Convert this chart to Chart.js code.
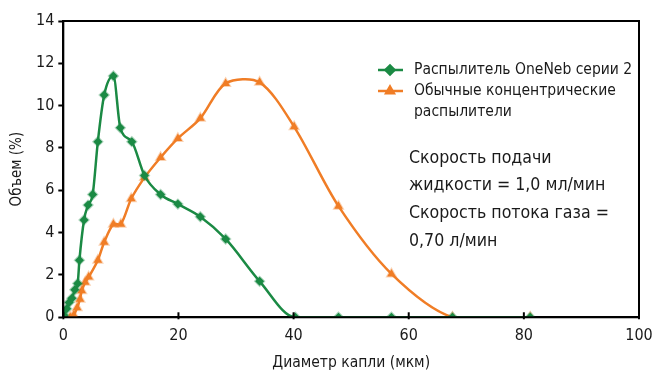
<!DOCTYPE html>
<html>
<head>
<meta charset="utf-8">
<script src="https://cdn.jsdelivr.net/npm/chart.js@4.4.1/dist/chart.umd.min.js"></script>
<style>
  html, body { margin: 0; padding: 0; background: #fff; }
  #wrap { width: 653px; height: 370px; }
</style>
</head>
<body>
<div id="wrap"><canvas id="chart-1"></canvas></div>
<script>
// droplet diameter (um) and volume (%)
const oneNebX = [0.1, 0.6, 1.0, 1.5, 2.0, 2.5, 2.8, 3.6, 4.3, 5.1, 6.0, 7.1, 8.7, 9.9, 11.9, 14.1, 16.9, 19.9, 23.8, 28.2, 34.1, 40.3, 47.8, 57.0, 67.6, 81.1];
const oneNebY = [0.1, 0.4, 0.7, 0.9, 1.3, 1.6, 2.7, 4.6, 5.3, 5.8, 8.3, 10.5, 11.4, 8.95, 8.3, 6.7, 5.8, 5.35, 4.75, 3.7, 1.7, 0, 0, 0, 0, 0];

const concX = [1.2, 1.8, 2.4, 2.9, 3.2, 3.8, 4.4, 6.0, 7.1, 8.7, 10.0, 11.8, 14.1, 16.9, 19.9, 23.8, 28.2, 34.1, 40.1, 47.8, 57.0, 67.6, 81.1];
const concY = [0, 0.1, 0.45, 0.85, 1.25, 1.65, 1.9, 2.7, 3.55, 4.4, 4.4, 5.6, 6.6, 7.55, 8.45, 9.4, 11.05, 11.1, 9.0, 5.25, 2.05, 0, 0];

const xTicks = [0, 20, 40, 60, 80, 100];
const yTicks = [0, 2, 4, 6, 8, 10, 12, 14];

const seriesNames = ['Распылитель OneNeb серии 2', ['Обычные концентрические', 'распылители']];
const noteLines = ['Скорость подачи', 'жидкости = 1,0 мл/мин', 'Скорость потока газа =', '0,70 л/мин'];

const green = '#1b8a44';
const orange = '#f07d26';
const FONT = '"Liberation Sans Narrow", "DejaVu Sans Condensed", "Roboto", sans-serif';

function toPoints(xs, ys) {
  return xs.map((x, i) => ({ x: x, y: ys[i] }));
}

// box, inward x ticks, legend and note
const extras = {
  id: 'extras',
  afterDraw(chart) {
    const c = chart.ctx;
    const a = chart.chartArea;
    const xs = chart.scales.x;
    c.save();
    c.strokeStyle = '#000';
    c.lineWidth = 2;
    c.strokeRect(a.left, a.top, a.right - a.left, a.bottom - a.top);
    xTicks.forEach(v => {
      const px = xs.getPixelForValue(v);
      c.beginPath();
      c.moveTo(px, a.bottom + 2);
      c.lineTo(px, a.bottom - 5);
      c.stroke();
    });

    const ds = chart.data.datasets;
    const legY = [70, 91];
    ds.forEach((d, i) => {
      const y = legY[i];
      c.strokeStyle = d.borderColor;
      c.lineWidth = 2.5;
      c.beginPath();
      c.moveTo(378, y);
      c.lineTo(403, y);
      c.stroke();
      Chart.helpers.drawPoint(c, {
        pointStyle: d.pointStyle, radius: 4.5, rotation: 0, borderWidth: 1
      }, 390, y);
      c.fillStyle = d.backgroundColor;
      c.fill();
      c.fillStyle = '#1a1a1a';
      c.font = '15.5px ' + FONT;
      c.textBaseline = 'middle';
      const lines = [].concat(seriesNames[i]);
      lines.forEach((t, k) => c.fillText(t, 414, y + k * 21));
    });

    c.fillStyle = '#1a1a1a';
    c.font = '17.6px ' + FONT;
    c.textBaseline = 'middle';
    noteLines.forEach((t, k) => c.fillText(t, 409, 158 + k * 27.7));
    c.restore();
  }
};

const ctx1 = document.getElementById('chart-1');

new Chart(ctx1, {
  type: 'scatter',
  data: {
    datasets: [{
      label: 'OneNeb',
      data: toPoints(oneNebX, oneNebY),
      showLine: true,
      borderColor: green,
      backgroundColor: green,
      borderWidth: 2.5,
      cubicInterpolationMode: 'monotone',
      pointStyle: 'rectRot',
      pointRadius: 4.5,
      pointBorderWidth: 2,
      pointBorderColor: 'rgba(27,138,68,0.35)',
      order: 1
    }, {
      label: 'Concentric',
      data: toPoints(concX, concY),
      showLine: true,
      borderColor: orange,
      backgroundColor: orange,
      borderWidth: 2.5,
      tension: 0.3,
      pointStyle: 'triangle',
      pointRadius: 5,
      pointBorderWidth: 2,
      pointBorderColor: 'rgba(240,125,38,0.35)',
      order: 2
    }]
  },
  options: {
    responsive: true,
    maintainAspectRatio: false,
    animation: false,
    layout: { padding: { top: 21, right: 14, left: 4, bottom: 0 } },
    plugins: {
      legend: { display: false },
      tooltip: { enabled: false }
    },
    scales: {
      x: {
        type: 'linear',
        min: 0,
        max: 100,
        afterBuildTicks: s => { s.ticks = xTicks.map(v => ({ value: v })); },
        afterFit: s => { s.paddingRight = 0; },
        grid: { display: false, drawTicks: false },
        border: { color: '#000', width: 2 },
        ticks: { color: '#1a1a1a', font: { family: FONT, size: 16, lineHeight: 1 }, padding: 11 },
        title: { display: true, text: 'Диаметр капли (мкм)', color: '#1a1a1a', font: { family: FONT, size: 15.5, lineHeight: 0.95 }, padding: { top: 0, bottom: 0 } }
      },
      y: {
        min: 0,
        max: 14,
        afterBuildTicks: s => { s.ticks = yTicks.map(v => ({ value: v })); },
        grid: { drawOnChartArea: false, tickLength: 5, color: '#000', tickWidth: 2 },
        border: { color: '#000', width: 2 },
        ticks: { color: '#1a1a1a', font: { family: FONT, size: 16 }, padding: 4 },
        title: { display: true, text: 'Объем (%)', color: '#1a1a1a', font: { family: FONT, size: 15 }, padding: { bottom: 6 } }
      }
    }
  },
  plugins: [extras]
});
</script>
</body>
</html>
